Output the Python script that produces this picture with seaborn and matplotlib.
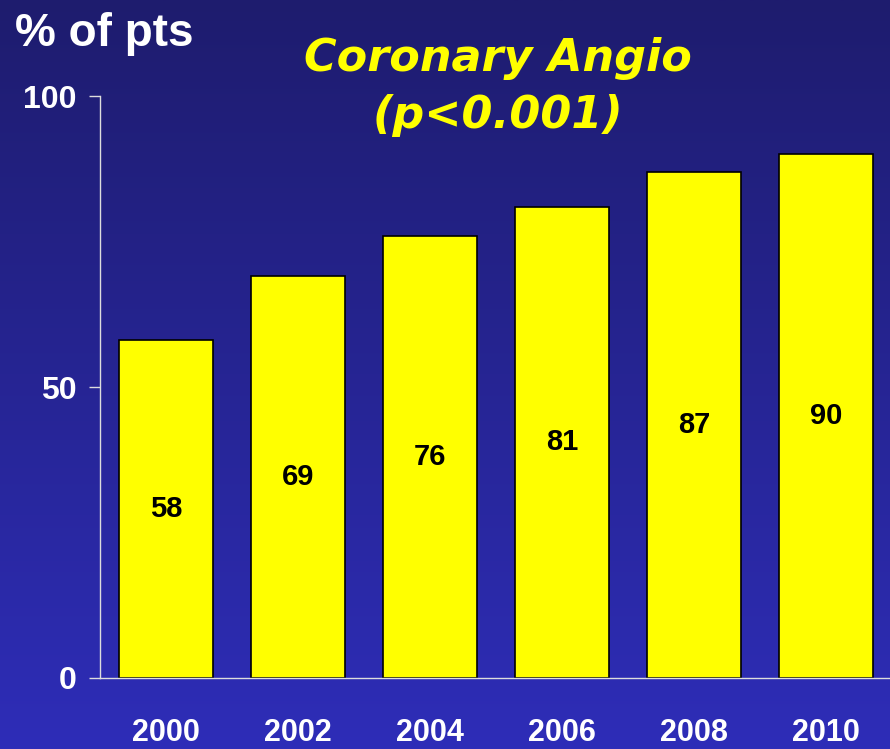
import matplotlib
matplotlib.use("Agg")
import matplotlib.pyplot as plt
from matplotlib.colors import LinearSegmentedColormap
import numpy as np
import pandas as pd
import seaborn as sns

years = ["2000", "2002", "2004", "2006", "2008", "2010"]
pct = [58, 69, 76, 81, 87, 90]
yticks = [0, 50, 100]

df = pd.DataFrame({"year": years, "pct": pct})

sns.set_style("white")
plt.rcParams["font.family"] = ["Liberation Sans Narrow", "Liberation Sans", "DejaVu Sans"]

fig = plt.figure(figsize=(8.9, 7.49), dpi=100)

# background gradient, dark navy at top to brighter blue at bottom
bg = fig.add_axes([0, 0, 1, 1], zorder=-1)
cmap = LinearSegmentedColormap.from_list("bg", ["#1e1c6e", "#2e2db8"])
bg.imshow(np.linspace(0, 1, 256).reshape(-1, 1), aspect="auto", cmap=cmap,
          extent=[0, 1, 0, 1])
bg.axis("off")

ax = fig.add_axes([0.1124, 0.0948, 0.89, 0.777])
ax.set_facecolor("none")
sns.barplot(data=df, x="year", y="pct", color="#ffff00", saturation=1,
            edgecolor="black", linewidth=1.2, width=0.71, ax=ax)

ax.set_xlim(-0.5, 5.5)
ax.set_ylim(0, 100)
ax.set_yticks(yticks)
ax.set_yticklabels([str(v) for v in yticks], fontsize=23, fontweight="bold", color="white")
ax.set_xticks(range(len(years)))
ax.set_xticklabels(years, fontsize=22, fontweight="bold", color="white")
ax.set_xticks(np.arange(-0.5, len(years)), minor=True)
ax.tick_params(axis="x", which="major", length=0, pad=29)
ax.tick_params(axis="x", which="minor", length=9, color="#dddddd", width=1, direction="out")
ax.tick_params(axis="y", length=8, color="#dddddd", width=1, pad=9, left=True, direction="out")
for s in ["top", "right"]:
    ax.spines[s].set_visible(False)
for s in ["left", "bottom"]:
    ax.spines[s].set_color("#dddddd")
    ax.spines[s].set_linewidth(1)
ax.set_xlabel("")
ax.set_ylabel("")

ax.bar_label(ax.containers[0], labels=[str(v) for v in pct], label_type="center",
             fontsize=21, fontweight="bold", color="black")

fig.text(0.017, 0.955, "% of pts", fontsize=33, fontweight="bold", color="white",
         family=["Liberation Sans", "DejaVu Sans"], ha="left", va="center")
fig.text(0.559, 0.884, "Coronary Angio\n(p<0.001)", fontsize=32, fontweight="bold",
         style="italic", color="#ffff00", ha="center", va="center", linespacing=1.42,
         family=["DejaVu Sans"])

fig.savefig("out.png", dpi=100)
